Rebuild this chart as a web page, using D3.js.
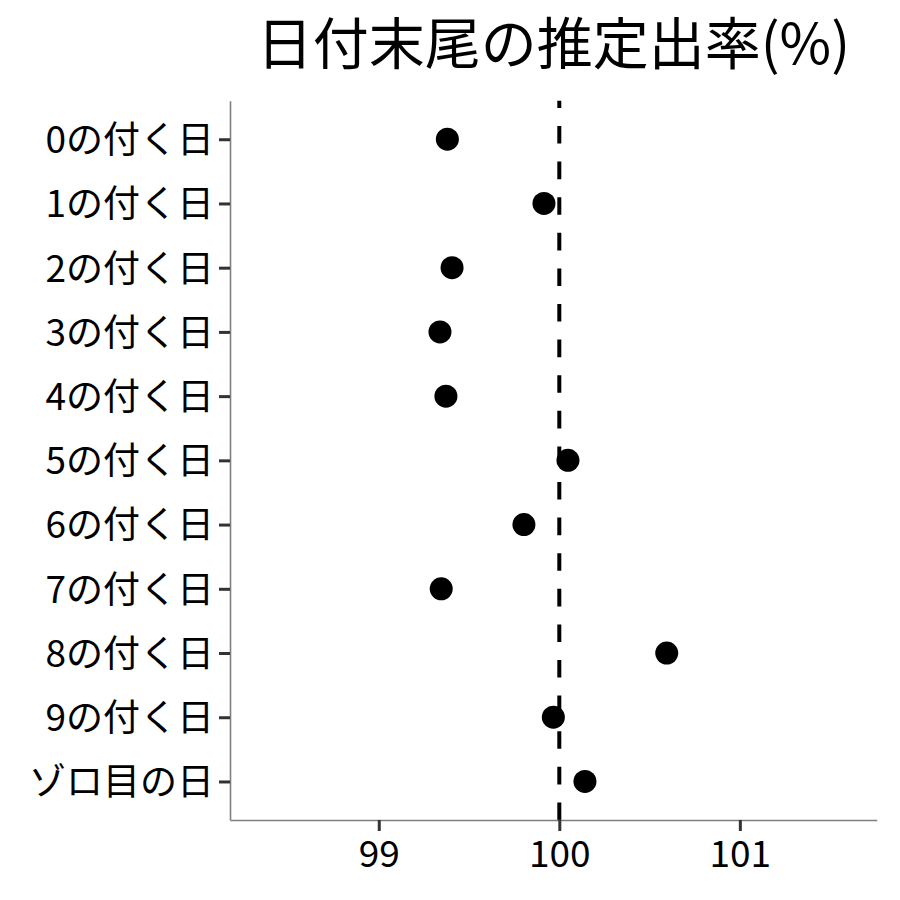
<!DOCTYPE html>
<html>
<head>
<meta charset="utf-8">
<script src="https://cdn.jsdelivr.net/npm/d3@7"></script>
<style>
  body { margin: 0; background: #fff; }
  text { font-family: "Noto Sans CJK JP", "Noto Sans", sans-serif; }
</style>
</head>
<body>
<div id="chart"></div>
<script>
// categories, top to bottom
var categories = ["0の付く日", "1の付く日", "2の付く日", "3の付く日", "4の付く日",
  "5の付く日", "6の付く日", "7の付く日", "8の付く日", "9の付く日", "ゾロ目の日"];
// estimated rate (%)
var rates = [99.38, 99.915, 99.406, 99.339, 99.372, 100.048, 99.804, 99.346, 100.595, 99.967, 100.142];
var xTicks = [99, 100, 101];
var refValue = 100;
var title = "日付末尾の推定出率(%)";

var W = 900, H = 900;
var margin = { top: 100.7, right: 23.3, bottom: 80, left: 230 },
  width = W - margin.left - margin.right,
  height = H - margin.top - margin.bottom;

var svg = d3.select("#chart").append("svg")
  .attr("width", W)
  .attr("height", H);

var g = svg.append("g")
  .attr("transform", "translate(" + margin.left + "," + margin.top + ")");

var x = d3.scaleLinear().domain([98.176, 101.758]).range([0, width]);
var y = d3.scalePoint().domain(categories).range([0, height]).padding(0.6);

// reference line (drawn bottom to top like ggplot)
g.append("path")
  .attr("d", d3.line()([[x(refValue), height], [x(refValue), 0]]))
  .attr("stroke", "#000")
  .attr("stroke-width", 4)
  .attr("stroke-dasharray", "17.6,18");

// points
g.selectAll(".dot")
  .data(rates)
  .enter().append("circle")
  .attr("class", "dot")
  .attr("cx", function (d) { return x(d); })
  .attr("cy", function (d, i) { return y(categories[i]); })
  .attr("r", 11.5)
  .attr("fill", "#000");

// x axis
var xAxis = g.append("g")
  .attr("transform", "translate(0," + height + ")")
  .call(d3.axisBottom(x).tickValues(xTicks).tickFormat(d3.format("d"))
    .tickSize(11).tickPadding(5).tickSizeOuter(0));
// y axis
var yAxis = g.append("g")
  .call(d3.axisLeft(y).tickSize(11).tickPadding(5).tickSizeOuter(0));

[xAxis, yAxis].forEach(function (a) {
  a.select(".domain").attr("stroke", "#7f7f7f").attr("stroke-width", 1.6);
  a.selectAll(".tick line").attr("stroke", "#333").attr("stroke-width", 3);
  a.selectAll(".tick text")
    .attr("fill", "#000")
    .style("font-size", "37px")
    .style("font-family", "'Noto Sans CJK JP', sans-serif");
});
yAxis.selectAll(".tick text").attr("dy", "0.36em");
xAxis.selectAll(".tick text").attr("dy", "0.85em");

// title
svg.append("text")
  .attr("x", margin.left + width / 2)
  .attr("y", 64)
  .attr("text-anchor", "middle")
  .style("font-size", "56px")
  .attr("fill", "#000")
  .text(title);
</script>
</body>
</html>
